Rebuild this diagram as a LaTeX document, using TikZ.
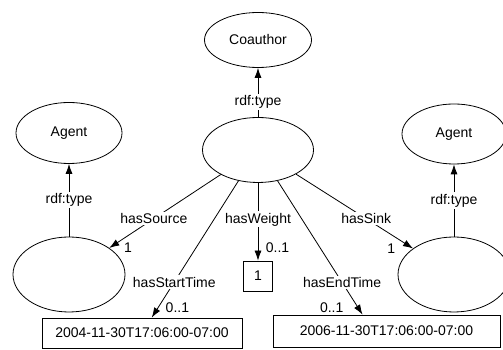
\documentclass[tikz,border=0pt]{standalone}
\usepackage{fontspec}
\setmainfont{Liberation Sans}
\usetikzlibrary{shapes.geometric,arrows.meta,positioning}
\begin{document}
\begin{tikzpicture}[x=1pt, y=1pt, line width=0.8pt, >={Latex[length=10pt,width=7pt]},
	font=\fontsize{14}{16}\selectfont,
	cls/.style={draw, ellipse, inner sep=0pt},
	lit/.style={draw, rectangle, inner sep=0pt},
	lbl/.style={fill=white, inner sep=1.5pt},
	mult/.style={inner sep=1.5pt}]
	\useasboundingbox (0,0) rectangle (503,350);
	% Klassen oben
	\node[cls, minimum width=107pt, minimum height=55pt] (coauthor) at (258,310) {Coauthor};
	\node[cls, minimum width=106pt, minimum height=61pt] (agentL) at (69,217) {Agent};
	\node[cls, minimum width=104pt, minimum height=60pt] (agentR) at (454,216) {Agent};
	% leere Knoten
	\node[cls, minimum width=111pt, minimum height=65pt] (ctr) at (258,200) {};
	\node[cls, minimum width=112pt, minimum height=75pt] (srcL) at (69,75.5) {};
	\node[cls, minimum width=112pt, minimum height=75pt] (sinkR) at (454,75.5) {};
	% Literale
	\node[lit, minimum width=29pt, minimum height=30pt] (weight) at (258,74) {1};
	\node[lit, minimum width=200pt, minimum height=30pt] (startDate) at (142,17) {2004-11-30T17:06:00-07:00};
	\node[lit, minimum width=227pt, minimum height=32pt] (endDate) at (386.5,19) {2006-11-30T17:06:00-07:00};
	% Kanten
	\draw[->] (ctr) -- node[lbl, pos=0.3]{rdf:type} (coauthor);
	\draw[->] (srcL) -- node[lbl]{rdf:type} (agentL);
	\draw[->] (sinkR) -- node[lbl]{rdf:type} (agentR);
	\draw[->] (ctr) -- node[lbl, pos=0.6]{hasSource} node[mult, pos=1, right=13pt]{1} (srcL);
	\draw[->] (ctr) -- node[lbl, pos=0.6]{hasSink} node[mult, pos=1, left=16pt]{1} (sinkR);
	\draw[->] (ctr) -- node[lbl, pos=0.47]{hasWeight} node[mult, pos=0.83, right=6pt]{0..1} (weight);
	\draw[->] (ctr) -- node[lbl, pos=0.74]{hasStartTime} node[mult, pos=0.93, right=6pt]{0..1} (startDate);
	\draw[->] (ctr) -- node[lbl, pos=0.76]{hasEndTime} node[mult, pos=0.95, left=13pt]{0..1} ([xshift=-24pt]endDate.north);
\end{tikzpicture}
\end{document}
